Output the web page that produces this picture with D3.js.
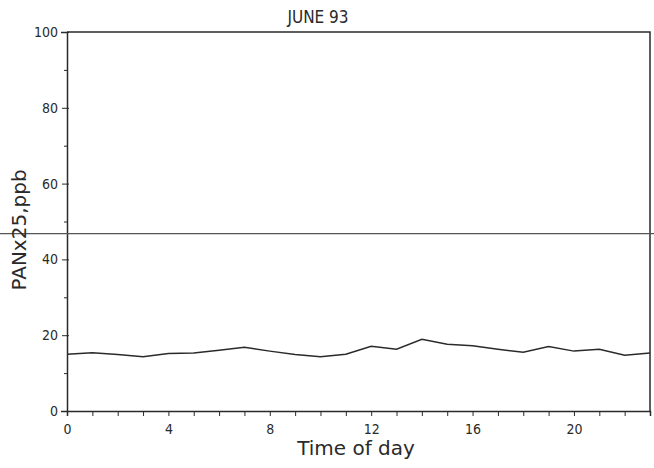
<!DOCTYPE html>
<html>
<head>
<meta charset="utf-8">
<script src="https://cdn.jsdelivr.net/npm/d3@7"></script>
<style>
  body { margin: 0; background: #fff; }
  text { font-family: "DejaVu Sans", sans-serif; fill: #2a2a2a; }
</style>
</head>
<body>
<div id="chart"></div>
<script>
// hourly PAN values (x25, ppb)
const hours = d3.range(0, 24);
const panValues = [15.0, 15.4, 14.9, 14.3, 15.2, 15.3, 16.0, 16.8, 15.8, 14.9, 14.3, 15.0,
                   17.1, 16.3, 18.9, 17.6, 17.2, 16.3, 15.5, 17.0, 15.8, 16.3, 14.7, 15.3];
const refLevel = [46.8];
const xTickLabels = [0, 4, 8, 12, 16, 20];
const yTickLabels = [0, 20, 40, 60, 80, 100];

const width = 654, height = 468;
const plotLeft = 67, plotRight = 650, plotTop = 32, plotBottom = 411;

const svg = d3.select("#chart").append("svg")
  .attr("width", width)
  .attr("height", height);

const x = d3.scaleLinear().domain([0, 23]).range([plotLeft, plotRight]);
const y = d3.scaleLinear().domain([0, 100]).range([plotBottom, plotTop]);

const ink = "#2a2a2a";
const tickFont = "DejaVu Sans Condensed, DejaVu Sans";

// frame top + right
svg.append("path")
  .attr("d", `M${plotLeft},${plotTop}H${plotRight}V${plotBottom}`)
  .attr("fill", "none")
  .attr("stroke", ink)
  .attr("stroke-width", 1.5);

// x axis: hourly ticks pointing down
const xAxis = svg.append("g")
  .attr("transform", `translate(0,${plotBottom})`)
  .call(d3.axisBottom(x).tickValues(hours).tickSize(5).tickFormat(d => xTickLabels.includes(d) ? d : ""));
xAxis.select(".domain").attr("stroke", ink).attr("stroke-width", 1.5);
xAxis.selectAll(".tick line").attr("stroke", ink);
xAxis.selectAll(".tick text").attr("font-size", 14).attr("dy", "1.05em").style("font-family", tickFont);

// y axis: major ticks every 20, minor every 10
const yAxis = svg.append("g")
  .attr("transform", `translate(${plotLeft},0)`)
  .call(d3.axisLeft(y).tickValues(yTickLabels).tickSize(6).tickPadding(3));
yAxis.select(".domain").attr("stroke", ink).attr("stroke-width", 1.5);
yAxis.selectAll(".tick line").attr("stroke", ink).attr("x2", -5).attr("x1", 2);
yAxis.selectAll(".tick text").attr("font-size", 14).style("font-family", tickFont);

svg.append("g")
  .attr("transform", `translate(${plotLeft},0)`)
  .call(d3.axisLeft(y).tickValues([10, 30, 50, 70, 90]).tickSize(3).tickFormat(""))
  .call(g => g.select(".domain").remove())
  .selectAll(".tick line").attr("stroke", ink);

// reference line across the whole width
svg.selectAll(".ref")
  .data(refLevel)
  .enter()
  .append("line")
  .attr("x1", 0)
  .attr("x2", width)
  .attr("y1", d => y(d))
  .attr("y2", d => y(d))
  .attr("stroke", "#555")
  .attr("stroke-width", 1.3);

// the data line
const line = d3.line()
  .x((d, i) => x(hours[i]))
  .y(d => y(d));

svg.append("path")
  .datum(panValues)
  .attr("d", line)
  .attr("fill", "none")
  .attr("stroke", ink)
  .attr("stroke-width", 1.5);

// title and axis labels
svg.append("text")
  .attr("x", 318)
  .attr("y", 23)
  .attr("text-anchor", "middle")
  .attr("font-size", 17)
  .style("font-family", tickFont)
  .text("JUNE 93");

svg.append("text")
  .attr("x", 356)
  .attr("y", 455)
  .attr("text-anchor", "middle")
  .attr("font-size", 20)
  .text("Time of day");

svg.append("text")
  .attr("transform", "translate(26,230) rotate(-90)")
  .attr("text-anchor", "middle")
  .attr("font-size", 20)
  .attr("fill", "#444")
  .text("PANx25,ppb");
</script>
</body>
</html>
